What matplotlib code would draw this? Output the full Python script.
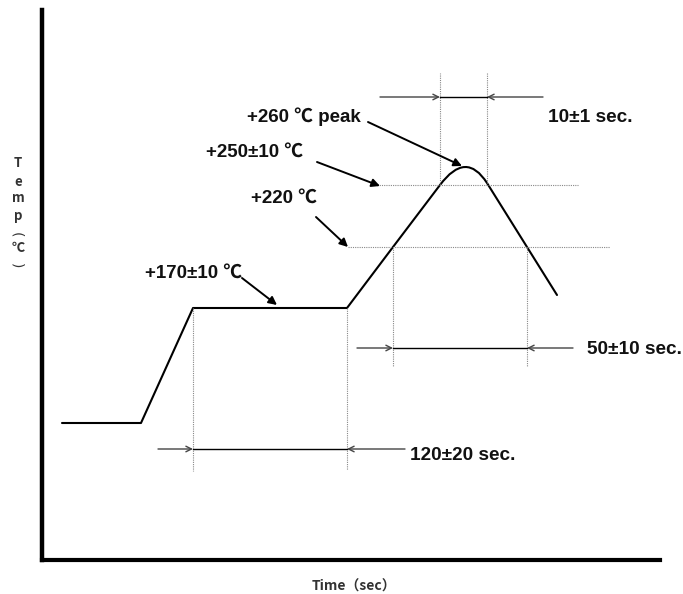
import matplotlib
matplotlib.use('Agg')
from matplotlib import pyplot as plt
from matplotlib.path import Path
from matplotlib.patches import PathPatch

# schematic reflow profile, units = time / temp on the drawing scale
prof_t = [20, 99, 151, 305, 351, 398, 424, 445, 485, 515]
prof_T = [137, 137, 252, 252, 313, 375, 410, 377, 313, 265]
# point 6 is the bezier control point that rounds the peak

# dotted guide lines
vguides = [(398, 375, 487), (445, 377, 487), (351, 313, 193),
           (485, 313, 193), (151, 252, 89), (305, 252, 90)]
hguides = [(375, 335, 536), (313, 306, 568)]

# dimension arrows: (level, outer left, inner left, inner right, outer right)
dims = [(463, 338, 398, 445, 501), (212, 315, 351, 485, 531),
        (111, 116, 151, 305, 363)]
dim_labels = ['10±1 sec.', '50±10 sec.', '120±20 sec.']
dim_label_pos = [(506, 443), (545, 210), (368, 105)]

temp_labels = ['+260 ℃ peak', '+250±10 ℃', '+220 ℃', '+170±10 ℃']
temp_label_pos = [(205, 443), (164, 408), (209, 362), (103, 287)]
temp_arrow_from = [(326, 438), (275, 398), (274, 343), (200, 282)]
temp_arrow_to = [(420, 394), (338, 374), (306, 313), (235, 255)]

# vertical y label, one glyph per row (rotation for the brackets)
ylab_chars = ['T', 'e', 'm', 'p', '(', '℃', ')']
ylab_rot = [0, 0, 0, 0, -90, 0, -90]
ylab_y = [163, 182, 198, 216, 235, 248, 266]

fam = ['Liberation Sans', 'Noto Sans CJK SC', 'DejaVu Sans']
cjk = ['Noto Sans CJK SC', 'DejaVu Sans']

fig = plt.figure(figsize=(6.83, 5.94), dpi=100)
ax = fig.add_axes([42 / 683, 34 / 594, 618 / 683, 550 / 594])
ax.set_xlim(0, 618)
ax.set_ylim(0, 550)
ax.set_xticks([]); ax.set_yticks([])
ax.spines['top'].set_visible(False)
ax.spines['right'].set_visible(False)
ax.spines['left'].set_linewidth(3.2)
ax.spines['bottom'].set_linewidth(3.0)

for t, a, b in vguides:
    ax.plot([t, t], [a, b], color='#888888', lw=0.8, ls=(0, (1, 1)))
for T, a, b in hguides:
    ax.plot([a, b], [T, T], color='#888888', lw=0.8, ls=(0, (1, 1)))

codes = [Path.MOVETO] + [Path.LINETO] * 5 + [Path.CURVE3, Path.CURVE3] + [Path.LINETO] * 2
path = Path(list(zip(prof_t, prof_T)), codes)
ax.add_patch(PathPatch(path, fill=False, color='black', lw=1.5, capstyle='round', joinstyle='round'))

for T, o1, i1, i2, o2 in dims:
    ax.plot([i1, i2], [T, T], color='black', lw=1.0)
    ax.annotate('', xy=(i1, T), xytext=(o1, T),
                arrowprops=dict(arrowstyle='->', color='#444444', lw=1.0, shrinkA=0, shrinkB=0))
    ax.annotate('', xy=(i2, T), xytext=(o2, T),
                arrowprops=dict(arrowstyle='->', color='#444444', lw=1.0, shrinkA=0, shrinkB=0))
for lab, (x, y) in zip(dim_labels, dim_label_pos):
    ax.text(x, y, lab, fontsize=13.7, fontweight='bold', family=fam, color='#111111',
            ha='left', va='center')

for lab, (x, y), a, b in zip(temp_labels, temp_label_pos, temp_arrow_from, temp_arrow_to):
    ax.text(x, y, lab, fontsize=13.5, fontweight='bold', family=fam, color='#111111',
            ha='left', va='center')
    ax.annotate('', xy=b, xytext=a,
                arrowprops=dict(arrowstyle='-|>', color='black', lw=1.4,
                                mutation_scale=12, shrinkA=0, shrinkB=0))

for ch, rot, y in zip(ylab_chars, ylab_rot, ylab_y):
    if rot:
        fig.text(16 / 683, 1 - y / 594, ch, fontsize=10, family=['DejaVu Sans'],
                 color='#333333', rotation=rot, ha='center', va='center')
    else:
        fig.text(18 / 683, 1 - y / 594, ch, fontsize=9.5, fontweight='bold', family=cjk,
                 color='#333333', ha='center', va='center')
fig.text(354 / 683, 1 - 587 / 594, 'Time（sec）', fontsize=10, fontweight='bold',
         family=cjk, color='#333333', ha='center', va='center')

fig.savefig('out.png', dpi=100)
